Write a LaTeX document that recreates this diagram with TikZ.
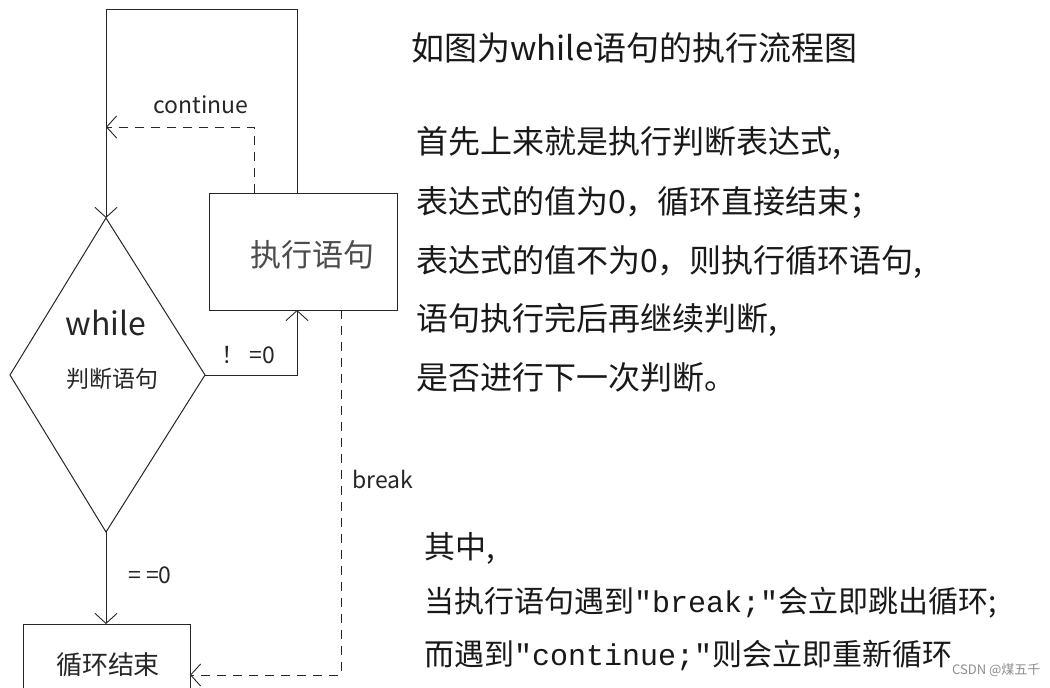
\documentclass[tikz,border=0pt]{standalone}
\usepackage{fontspec}
\setmainfont{Noto Sans CJK SC}
\newfontfamily\latq{Liberation Mono}
\usetikzlibrary{arrows.meta}
\begin{document}
\begin{tikzpicture}[x=1pt,y=-1pt,
  ln/.style={line width=1pt,draw=black!85},
  arr/.style={ln,-{Straight Barb[length=10pt,width=22pt,line width=0.9pt]}},
  dsh/.style={dash pattern=on 9pt off 7pt},
  lbl/.style={inner sep=0pt,font=\fontsize{23}{26}\selectfont,text=black!85},
  txt/.style={inner sep=0pt,anchor=west,font=\fontsize{32}{36}\selectfont,text=black!90}]
\useasboundingbox (0,0) rectangle (1050,688);
\fill[white] (0,0) rectangle (1050,688);
% shapes
\draw[ln] (106,218) coordinate (dt) -- (205,375) coordinate (dr) -- (106,532) coordinate (db) -- (10,375) -- cycle;
\node[draw=black!85,line width=1pt,minimum width=188pt,minimum height=117pt,inner sep=0pt] (ex) at (303,251.5) {};
\node[inner sep=0pt,font=\fontsize{31}{32}\selectfont,text=black!70] at (312,255) {执行语句};
\node[draw=black!85,line width=1pt,minimum width=167pt,minimum height=80pt,inner sep=0pt,anchor=north west] (en) at (23,624) {};
\node[inner sep=0pt,font=\fontsize{26}{28}\selectfont,text=black!85] at (108,665) {循环结束};
\node[inner sep=0pt,font=\fontsize{32}{34}\selectfont,text=black!85] at (106,323) {while};
\node[inner sep=0pt,font=\fontsize{23}{24}\selectfont,text=black!85] at (112,379) {判断语句};
% connectors
\coordinate (c1) at (297,9); \coordinate (c2) at (106,9);
\draw[arr] (297,193) -- (c1) -- (c2) -- (dt);
\draw[arr,dsh] (254,193) -- (254,127) -- (106,127);
\node[lbl] at (201,105) {continue};
\draw[arr] (dr) -- (297,375) -- (297,310);
\node[lbl] at (248,355) {！ =0};
\draw[arr,dsh] (341,310) -- (341,675) -- (190,675);
\node[lbl] at (383,479) {break};
\draw[arr] (db) -- (106,624);
\node[lbl] at (150,575) {= =0};
% text
\node[txt,font=\fontsize{33}{36}\selectfont] at (411,48) {如图为while语句的执行流程图};
\node[txt] at (416,143) {首先上来就是执行判断表达式,};
\node[txt] at (416,203) {表达式的值为0，循环直接结束；};
\node[txt] at (416,262) {表达式的值不为0，则执行循环语句,};
\node[txt] at (416,320) {语句执行完后再继续判断,};
\node[txt] at (416,377) {是否进行下一次判断。};
\node[txt,font=\fontsize{31}{36}\selectfont] at (424,548) {其中,};
\node[txt,font=\fontsize{30}{36}\selectfont] at (424,603) {当执行语句遇到{\latq\symbol{34}break;\symbol{34}}会立即跳出循环;};
\node[txt,font=\fontsize{30}{36}\selectfont] at (424,655) {而遇到{\latq\symbol{34}continue;\symbol{34}}则会立即重新循环};
\node[inner sep=0pt,anchor=west,font=\fontsize{13}{14}\selectfont,text=black!45] at (952,670) {CSDN @煤五千};
\end{tikzpicture}
\end{document}
